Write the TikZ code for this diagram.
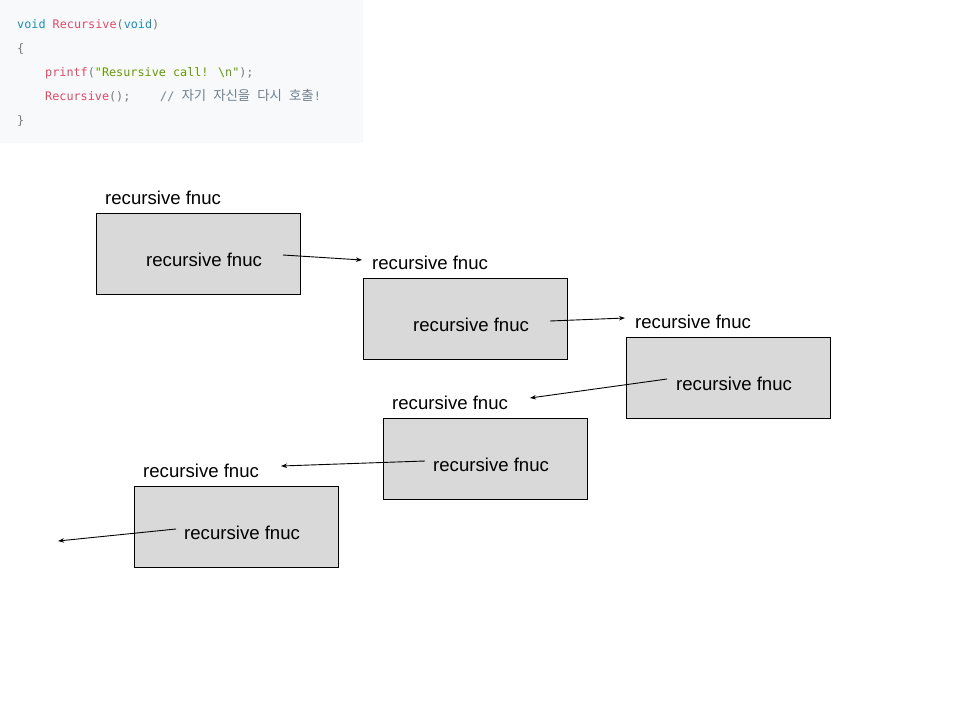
\documentclass[tikz,border=0pt]{standalone}
\usepackage{fontspec}
\setmainfont{Liberation Sans}
\newfontfamily\codefont{DejaVu Sans Mono}
\newfontfamily\krfont{Noto Sans CJK KR}
\usetikzlibrary{arrows.meta}
\definecolor{codebg}{RGB}{248,249,250}
\definecolor{kw}{RGB}{25,144,184}
\definecolor{fn}{RGB}{221,74,104}
\definecolor{str}{RGB}{102,153,0}
\definecolor{punc}{RGB}{120,120,120}
\definecolor{cmt}{RGB}{112,128,144}
\definecolor{boxfill}{RGB}{217,217,217}
\newcommand\kr[1]{{\krfont\fontsize{13.4}{14}\selectfont #1}}
\begin{document}
\begin{tikzpicture}[x=1pt,y=-1pt,
  codeline/.style={anchor=base west, inner sep=0pt, font=\codefont\fontsize{11.8}{14}\selectfont},
  callbox/.style={draw=black, line width=1pt, fill=boxfill, minimum width=204pt, minimum height=81pt, anchor=north west, inner sep=0pt},
  boxtext/.style={anchor=base west, inner sep=0pt, font=\fontsize{18.6}{22}\selectfont},
  callarrow/.style={-{Stealth[length=6pt,width=4.5pt]}, line width=0.9pt}
]
\useasboundingbox (0,0) rectangle (960,720);
\fill[white] (0,0) rectangle (960,720);
% code block
\fill[codebg] (0,0) rectangle (363,143);
\node[codeline] (c1) at (17,28) {\textcolor{kw}{void} \textcolor{fn}{Recursive}\textcolor{punc}{(}\textcolor{kw}{void}\textcolor{punc}{)}};
\node[codeline] (c2) at (17,52) {\textcolor{punc}{\{}};
\node[codeline] (c3) at (45,76) {\textcolor{fn}{printf}\textcolor{punc}{(}\textcolor{str}{"Resursive call! \textbackslash n"}\textcolor{punc}{);}};
\node[codeline] (c4) at (45,100) {\textcolor{fn}{Recursive}\textcolor{punc}{();}};
\node[codeline] (c4c) at (160,100) {\textcolor{cmt}{// \kr{자기} \kr{자신을} \kr{다시} \kr{호출}!}};
\node[codeline] (c5) at (17,124) {\textcolor{punc}{\}}};

% boxes
\foreach \n/\x/\y in {1/96/213, 2/363/278, 3/626/337, 4/383/418, 5/134/486}{
  \node[callbox] (b\n) at (\x,\y) {};
  \node[boxtext] (l\n) at ([shift={(9,-9)}]b\n.north west) {recursive fnuc};
  \node[boxtext] (t\n) at ([shift={(50,53)}]b\n.north west) {recursive fnuc};
}

% arrows
\coordinate (a1s) at (283,255); \coordinate (a1e) at (362,260);
\coordinate (a2s) at (550,321); \coordinate (a2e) at (625,318);
\coordinate (a3s) at (667,379); \coordinate (a3e) at (530,398);
\coordinate (a4s) at (425,461); \coordinate (a4e) at (281,466);
\coordinate (a5s) at (176,529); \coordinate (a5e) at (58,541);
\foreach \n in {1,...,5}{
  \draw[callarrow] (a\n s) -- (a\n e);
}
\end{tikzpicture}
\end{document}
